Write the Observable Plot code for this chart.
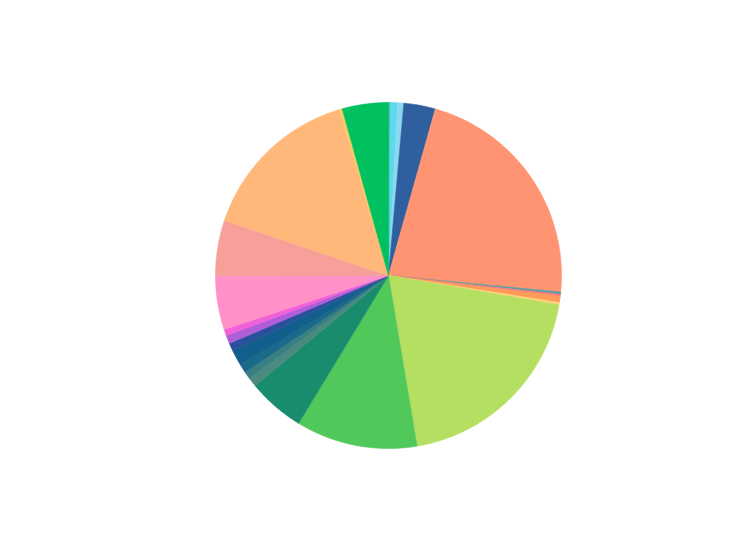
<!DOCTYPE html>
<html>
<head>
<meta charset="utf-8">
<script src="https://cdn.jsdelivr.net/npm/d3@7"></script>
<script src="https://cdn.jsdelivr.net/npm/@observablehq/plot@0.6"></script>
<style>
  html, body { margin: 0; padding: 0; background: #fff; }
  #chart { width: 730px; height: 552px; }
</style>
</head>
<body>
<div id="chart"></div>
<script>
// Slices, clockwise from 12 o'clock
const sliceNames = [
  "S01","S02","S03","S04","S05","S06","S07","S08","S09","S10",
  "S11","S12","S13","S14","S15","S16","S17","S18","S19","S20",
  "S21","S22","S23","S24"
];
const sliceValues = [
  0.4, 2.6, 2.1, 10.6, 79.8, 0.7, 0.7, 2.1, 0.8, 70.7,
  40.8, 19.2, 3.0, 2.5, 3.0, 5.3, 2.6, 2.8, 2.1, 18.2,
  18.6, 54.9, 1.0, 15.5
];
const sliceColors = [
  "#4b8a8a","#5ed8ec","#8ad9ee","#2f5f9f","#ff9473","#4f9fa0","#f47a80","#ff9a5a","#ffd27a","#b5df60",
  "#50c85a","#1a8c6e","#4a8a80","#3a7f82","#1a6a8a","#125e8c","#2a4f9c","#b05ed8","#f060d8","#ff90c8",
  "#f7a09a","#ffb87a","#f0d060","#00c060"
];

const total = d3.sum(sliceValues);
const pts = [];
let acc = 0;
sliceNames.forEach((name, i) => {
  const a0 = acc / total * 2 * Math.PI;
  acc += sliceValues[i];
  const a1 = acc / total * 2 * Math.PI;
  pts.push({name, x: 0, y: 0});
  const n = Math.max(2, Math.ceil((a1 - a0) / (Math.PI / 360)));
  for (let k = 0; k <= n; k++) {
    const a = a0 + (a1 - a0) * k / n;
    pts.push({name, x: Math.sin(a), y: Math.cos(a)});
  }
});

const chart = Plot.plot({
  width: 730,
  height: 552,
  marginLeft: 215,
  marginRight: 169,
  marginTop: 102,
  marginBottom: 104,
  x: {domain: [-1, 1], axis: null},
  y: {domain: [-1, 1], axis: null},
  color: {domain: sliceNames, range: sliceColors},
  marks: [
    Plot.line(pts, {x: "x", y: "y", z: "name", fill: "name", stroke: "name", strokeWidth: 0.6, curve: "linear-closed"})
  ]
});
document.getElementById("chart").appendChild(chart);
</script>
</body>
</html>
